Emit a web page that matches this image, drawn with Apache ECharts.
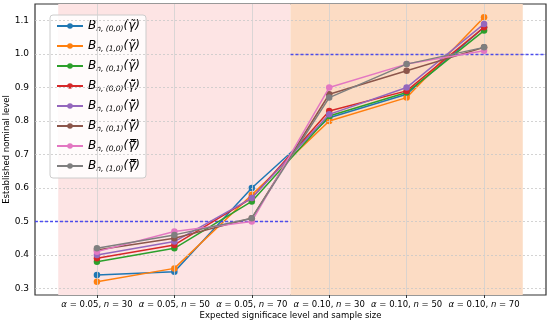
<!DOCTYPE html>
<html><head><meta charset="utf-8">
<script src="https://cdn.jsdelivr.net/npm/echarts@6/dist/echarts.min.js"></script>
<style>html,body{margin:0;padding:0;background:#fff}#c{width:550px;height:322px}</style>
</head><body><div id="c"></div>
<script>
const categories = [
  ['0.05', '30'], ['0.05', '50'], ['0.05', '70'],
  ['0.10', '30'], ['0.10', '50'], ['0.10', '70']
];
const seriesNames = [
  ['(0,0)', 'γ̃'], ['(1,0)', 'γ̃'], ['(0,1)', 'γ̃'],
  ['(0,0)', 'γ̃̄'], ['(1,0)', 'γ̃̄'], ['(0,1)', 'γ̃̄'],
  ['(0,0)', 'γ̃̿'], ['(1,0)', 'γ̃̿']
];
const s_blue   = [0.34, 0.35, 0.60, 0.81, 0.88, 1.08];
const s_orange = [0.32, 0.36, 0.58, 0.80, 0.87, 1.11];
const s_green  = [0.38, 0.42, 0.56, 0.815, 0.885, 1.07];
const s_red    = [0.39, 0.43, 0.57, 0.83, 0.89, 1.08];
const s_purple = [0.40, 0.44, 0.57, 0.82, 0.90, 1.09];
const s_brown  = [0.415, 0.45, 0.51, 0.88, 0.95, 1.02];
const s_pink   = [0.41, 0.47, 0.50, 0.90, 0.97, 1.01];
const s_gray   = [0.42, 0.46, 0.51, 0.87, 0.97, 1.02];
const allValues = [s_blue, s_orange, s_green, s_red, s_purple, s_brown, s_pink, s_gray];
const colors = ['#1f77b4', '#ff7f0e', '#2ca02c', '#d62728', '#9467bd', '#8c564b', '#e377c2', '#7f7f7f'];
const yTicks = [0.3, 0.4, 0.5, 0.6, 0.7, 0.8, 0.9, 1.0, 1.1];
const xTicks = [0, 1, 2, 3, 4, 5];
const refLines = [[-0.8, 2.5, 0.5], [2.5, 5.8, 1.0]];
const regions = [[-0.5, 2.5, '#fde4e4'], [2.5, 5.5, '#fcdcc4']];

const chart = echarts.init(document.getElementById('c'), null, {renderer: 'canvas'});
const FONT = 'DejaVu Sans';
const legendLabel = n => '{b|B}{s|n, ' + n[0] + '}{g|(' + n[1] + ')}';

const gridSeries = {
  type: 'line', name: '_grid', data: [], z: 1, silent: true,
  markArea: {
    silent: true,
    data: regions.map(r => [{xAxis: r[0], itemStyle: {color: r[2]}}, {xAxis: r[1]}])
  },
  markLine: {
    silent: true, symbol: 'none', label: {show: false}, animation: false,
    data: [
      ...yTicks.map(v => ({yAxis: v, lineStyle: {color: '#c8c8c8', width: 0.8, type: [2, 2]}})),
      ...xTicks.map(v => ({xAxis: v, lineStyle: {color: '#d0d0d0', width: 0.8, type: 'solid'}})),
      ...refLines.map(r => [
        {coord: [r[0], r[2]], lineStyle: {color: 'rgba(40,40,240,0.8)', width: 1.3, type: [3, 2]}},
        {coord: [r[1], r[2]]}
      ])
    ]
  }
};

const dataSeries = allValues.map((vals, i) => ({
  type: 'line', name: legendLabel(seriesNames[i]), z: 3 + i,
  data: vals.map((v, k) => [xTicks[k], v]),
  symbol: 'circle', symbolSize: 6.5,
  lineStyle: {width: 1.5, color: colors[i]},
  itemStyle: {color: colors[i]},
  emphasis: {disabled: true}
}));

chart.setOption({
  animation: false,
  grid: {left: 35, right: 4, top: 4, bottom: 27, outerBoundsMode: 'none', containLabel: false,
    show: true, borderColor: '#333', borderWidth: 1.2, backgroundColor: 'transparent'},
  legend: {
    left: 50, top: 15, orient: 'vertical', itemGap: 7, itemWidth: 26, itemHeight: 7,
    padding: [5, 6, 5, 6],
    backgroundColor: 'rgba(255,255,255,0.85)', borderColor: '#ccc', borderWidth: 1, borderRadius: 3,
    data: dataSeries.map(s => s.name),
    formatter: n => n,
    textStyle: {
      fontFamily: FONT, color: '#000',
      rich: {
        b: {fontFamily: FONT, fontStyle: 'italic', fontSize: 12, lineHeight: 14, verticalAlign: 'middle'},
        s: {fontFamily: FONT, fontStyle: 'italic', fontSize: 7.5, lineHeight: 14, verticalAlign: 'bottom', padding: [3, 0, 0, 0]},
        g: {fontFamily: FONT, fontStyle: 'italic', fontSize: 12, lineHeight: 14, verticalAlign: 'middle'}
      }
    }
  },
  xAxis: {
    type: 'value', min: -0.8, max: 5.8,
    name: 'Expected significace level and sample size', nameLocation: 'middle', nameGap: 16,
    nameMoveOverlap: false,
    nameTextStyle: {fontFamily: FONT, fontSize: 8.5, color: '#000'},
    axisLine: {show: false}, splitLine: {show: false},
    axisTick: {show: true, customValues: xTicks, length: 3, lineStyle: {color: '#333'}},
    axisLabel: {
      customValues: xTicks, margin: 5, fontFamily: FONT, fontSize: 8.5, color: '#000', hideOverlap: false,
      formatter: v => {
        const c = categories[Math.round(v)];
        return c ? '{i|α} = ' + c[0] + ', {i|n} = ' + c[1] : '';
      },
      rich: {i: {fontFamily: FONT, fontStyle: 'italic', fontSize: 8.5, color: '#000'}}
    }
  },
  yAxis: {
    type: 'value', min: 0.2805, max: 1.1495,
    name: 'Established nominal level', nameLocation: 'middle', nameGap: 24,
    nameMoveOverlap: false,
    nameTextStyle: {fontFamily: FONT, fontSize: 8.5, color: '#000'},
    axisLine: {show: false}, splitLine: {show: false},
    axisTick: {show: true, customValues: yTicks, length: 3, lineStyle: {color: '#333'}},
    axisLabel: {customValues: yTicks, margin: 6, fontFamily: FONT, fontSize: 9, color: '#000',
      formatter: v => v.toFixed(1)}
  },
  series: [gridSeries, ...dataSeries]
});
</script></body></html>
